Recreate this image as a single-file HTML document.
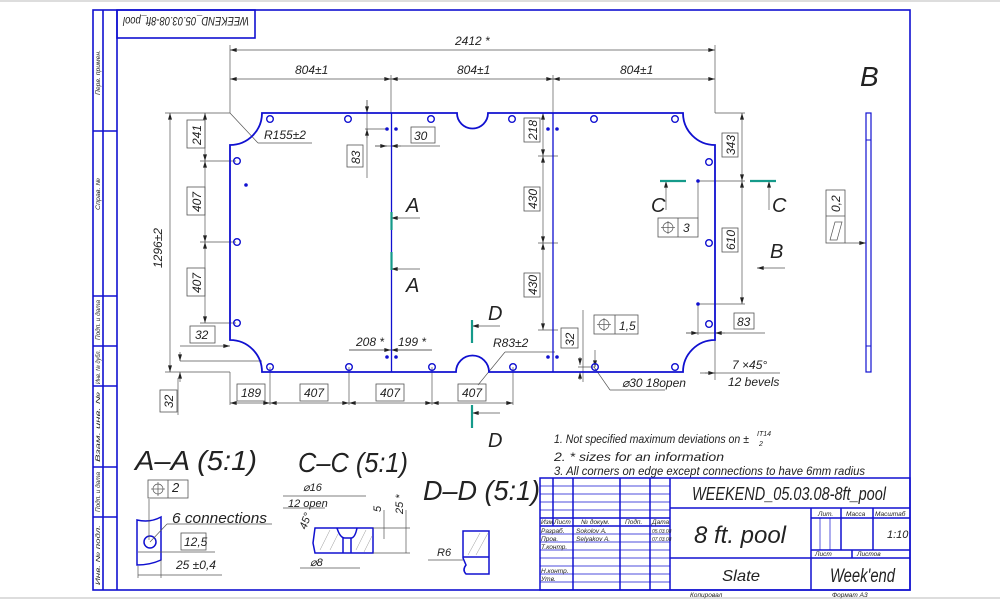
<!DOCTYPE html>
<html><head><meta charset="utf-8"><style>
html,body{margin:0;padding:0;background:#fff;}
svg{display:block;}
text{font-family:"Liberation Sans","Noto Sans CJK SC",sans-serif;font-style:italic;fill:#222;}
</style></head><body>
<svg width="1000" height="600" viewBox="0 0 1000 600" xmlns="http://www.w3.org/2000/svg">
<defs>
<marker id="ar" viewBox="0 0 10 6" refX="10" refY="3" markerWidth="8" markerHeight="4" orient="auto-start-reverse" markerUnits="userSpaceOnUse"><path d="M0,0L10,3L0,6z" fill="#222"/></marker>
</defs>
<line x1="0" y1="1" x2="1000" y2="1" stroke="#bbb"/>
<line x1="0" y1="598" x2="1000" y2="598" stroke="#bbb"/>
<!-- frame -->
<g stroke="#1010d0" stroke-width="1.6" fill="none">
<rect x="93" y="10" width="817" height="580"/>
<line x1="103" y1="10" x2="103" y2="590"/>
<line x1="117" y1="10" x2="117" y2="590"/>
<line x1="93" y1="131" x2="117" y2="131"/>
<line x1="93" y1="296" x2="117" y2="296"/>
<line x1="93" y1="346" x2="117" y2="346"/>
<line x1="93" y1="386" x2="117" y2="386"/>
<line x1="93" y1="467" x2="117" y2="467"/>
<line x1="93" y1="517" x2="117" y2="517"/>
<rect x="117" y="10" width="138" height="28"/>
</g>
<g font-size="6" fill="#333">
<text transform="translate(100,95) rotate(-90)" textLength="45" lengthAdjust="spacingAndGlyphs">Перв. примен.</text>
<text transform="translate(100,210) rotate(-90)" textLength="32" lengthAdjust="spacingAndGlyphs">Справ. №</text>
<text transform="translate(100,340) rotate(-90)" textLength="40" lengthAdjust="spacingAndGlyphs">Подп. и дата</text>
<text transform="translate(100,384) rotate(-90)" textLength="34" lengthAdjust="spacingAndGlyphs">Инв. № дубл.</text>
<text transform="translate(100,462) rotate(-90)" textLength="70" lengthAdjust="spacingAndGlyphs">Взам. инв. №</text>
<text transform="translate(100,512) rotate(-90)" textLength="40" lengthAdjust="spacingAndGlyphs">Подп. и дата</text>
<text transform="translate(100,585) rotate(-90)" textLength="60" lengthAdjust="spacingAndGlyphs">Инв. № подл.</text>
</g>
<text transform="translate(249,17) rotate(180)" font-size="12" textLength="126" lengthAdjust="spacingAndGlyphs">WEEKEND_05.03.08-8ft_pool</text>

<!-- dimension lines -->
<g stroke="#555" stroke-width="0.7" fill="none">
<line x1="230" y1="45" x2="230" y2="113"/><line x1="715" y1="45" x2="715" y2="113"/>
<line x1="391" y1="75" x2="391" y2="113"/><line x1="553" y1="75" x2="553" y2="113"/>
<line x1="230" y1="50" x2="715" y2="50" marker-start="url(#ar)" marker-end="url(#ar)"/>
<line x1="230" y1="79" x2="391" y2="79" marker-start="url(#ar)" marker-end="url(#ar)"/>
<line x1="391" y1="79" x2="553" y2="79" marker-start="url(#ar)" marker-end="url(#ar)"/>
<line x1="553" y1="79" x2="715" y2="79" marker-start="url(#ar)" marker-end="url(#ar)"/>
<line x1="165" y1="113" x2="230" y2="113"/><line x1="165" y1="372" x2="230" y2="372"/>
<line x1="170" y1="113" x2="170" y2="372" marker-start="url(#ar)" marker-end="url(#ar)"/>
<line x1="205" y1="113" x2="205" y2="161" marker-start="url(#ar)" marker-end="url(#ar)"/>
<line x1="205" y1="161" x2="205" y2="242" marker-start="url(#ar)" marker-end="url(#ar)"/>
<line x1="205" y1="242" x2="205" y2="323" marker-start="url(#ar)" marker-end="url(#ar)"/>
<line x1="200" y1="161" x2="236" y2="161"/><line x1="200" y1="242" x2="236" y2="242"/><line x1="200" y1="323" x2="236" y2="323"/>
<line x1="180" y1="346" x2="230" y2="346" marker-end="url(#ar)"/>
<line x1="180" y1="361" x2="262" y2="361"/>
<line x1="180" y1="352" x2="180" y2="361" marker-end="url(#ar)"/>
<line x1="180" y1="372" x2="180" y2="382" marker-start="url(#ar)"/>
<line x1="178" y1="378" x2="178" y2="415" />
<line x1="230" y1="372" x2="230" y2="405"/><line x1="270" y1="367" x2="270" y2="405"/>
<line x1="349" y1="367" x2="349" y2="405"/><line x1="432" y1="367" x2="432" y2="405"/><line x1="513" y1="367" x2="513" y2="405"/>
<line x1="230" y1="403" x2="270" y2="403" marker-start="url(#ar)" marker-end="url(#ar)"/>
<line x1="270" y1="403" x2="349" y2="403" marker-start="url(#ar)" marker-end="url(#ar)"/>
<line x1="349" y1="403" x2="432" y2="403" marker-start="url(#ar)" marker-end="url(#ar)"/>
<line x1="432" y1="403" x2="513" y2="403" marker-start="url(#ar)" marker-end="url(#ar)"/>
<line x1="349" y1="350" x2="432" y2="350"/>
<line x1="349" y1="350" x2="391" y2="350" marker-end="url(#ar)"/>
<line x1="391" y1="350" x2="432" y2="350" marker-start="url(#ar)"/>
<line x1="367" y1="100" x2="367" y2="178"/>
<line x1="367" y1="100" x2="367" y2="113" marker-end="url(#ar)"/>
<line x1="367" y1="129" x2="367" y2="138" marker-start="url(#ar)"/>
<line x1="365" y1="129" x2="387" y2="129"/>
<line x1="375" y1="146" x2="440" y2="146"/>
<line x1="375" y1="146" x2="387" y2="146" marker-end="url(#ar)"/>
<line x1="391" y1="146" x2="401" y2="146" marker-start="url(#ar)"/>
<line x1="543" y1="113" x2="543" y2="156" marker-start="url(#ar)" marker-end="url(#ar)"/>
<line x1="543" y1="156" x2="543" y2="243" marker-start="url(#ar)" marker-end="url(#ar)"/>
<line x1="543" y1="243" x2="543" y2="330" marker-start="url(#ar)" marker-end="url(#ar)"/>
<line x1="538" y1="156" x2="558" y2="156"/><line x1="538" y1="243" x2="558" y2="243"/><line x1="538" y1="330" x2="558" y2="330"/>
<line x1="715" y1="113" x2="745" y2="113"/>
<line x1="742" y1="113" x2="742" y2="181" marker-start="url(#ar)" marker-end="url(#ar)"/>
<line x1="742" y1="181" x2="742" y2="304" marker-start="url(#ar)" marker-end="url(#ar)"/>
<line x1="698" y1="181" x2="745" y2="181"/><line x1="698" y1="304" x2="745" y2="304"/>
<line x1="698" y1="181" x2="698" y2="218"/>
<line x1="698" y1="304" x2="698" y2="335"/>
<line x1="686" y1="333" x2="765" y2="333"/>
<line x1="686" y1="333" x2="698" y2="333" marker-end="url(#ar)"/>
<line x1="715" y1="333" x2="725" y2="333" marker-start="url(#ar)"/>
<line x1="715" y1="340" x2="715" y2="380"/>
<line x1="700" y1="373" x2="780" y2="373"/>
<line x1="705" y1="373" x2="715" y2="373" marker-end="url(#ar)"/>
<line x1="583" y1="310" x2="583" y2="382"/>
<line x1="580" y1="357" x2="580" y2="365" marker-end="url(#ar)"/>
<line x1="580" y1="372" x2="580" y2="380" marker-start="url(#ar)"/>
<line x1="578" y1="367" x2="595" y2="367"/>
<line x1="594" y1="367" x2="610" y2="390"/><line x1="610" y1="390" x2="665" y2="390"/>
<line x1="595" y1="350" x2="595" y2="367" marker-end="url(#ar)"/>
<line x1="230" y1="113" x2="258" y2="143"/><line x1="258" y1="143" x2="312" y2="143"/>
<line x1="478" y1="385" x2="505" y2="352"/><line x1="505" y1="352" x2="555" y2="352"/>
<line x1="391" y1="218" x2="420" y2="218" marker-start="url(#ar)"/>
<line x1="391" y1="269" x2="420" y2="269" marker-start="url(#ar)"/>
<line x1="472" y1="326" x2="500" y2="326" marker-start="url(#ar)"/>
<line x1="472" y1="413" x2="500" y2="413" marker-start="url(#ar)"/>
<line x1="666" y1="181" x2="666" y2="210" marker-start="url(#ar)"/>
<line x1="769" y1="181" x2="769" y2="210" marker-start="url(#ar)"/>
<line x1="757" y1="268" x2="785" y2="268" marker-start="url(#ar)"/>
<line x1="845" y1="243" x2="866" y2="243" marker-end="url(#ar)"/>
</g>

<!-- table outline -->
<g stroke="#1010d0" stroke-width="1.8" fill="none">
<path d="M262,113 L457,113 A15.5,15.5 0 0 0 488,113 L683,113 A32,32 0 0 0 715,145 L715,340 A32,32 0 0 0 683,372 L489,372 A16.5,16.5 0 0 0 456,372 L262,372 A32,32 0 0 0 230,340 L230,145 A32,32 0 0 0 262,113 Z"/>
<line x1="391.5" y1="113" x2="391.5" y2="372" stroke-width="1.3"/>
<line x1="553" y1="113" x2="553" y2="372" stroke-width="1.3"/>
<rect x="866" y="113" width="5" height="259" stroke-width="1.2"/>
<line x1="866" y1="140" x2="871" y2="140" stroke-width="1"/>
<line x1="866" y1="346" x2="871" y2="346" stroke-width="1"/>
</g>
<g stroke="#1010d0" stroke-width="1.4" fill="none">
<circle cx="270" cy="119" r="3.3"/><circle cx="348" cy="119" r="3.3"/><circle cx="431" cy="119" r="3.3"/><circle cx="512" cy="119" r="3.3"/><circle cx="594" cy="119" r="3.3"/><circle cx="675" cy="119" r="3.3"/>
<circle cx="270" cy="367" r="3.3"/><circle cx="349" cy="367" r="3.3"/><circle cx="432" cy="367" r="3.3"/><circle cx="513" cy="367" r="3.3"/><circle cx="595" cy="367" r="3.3"/><circle cx="675" cy="367" r="3.3"/>
<circle cx="237" cy="161" r="3.3"/><circle cx="237" cy="242" r="3.3"/><circle cx="237" cy="323" r="3.3"/>
<circle cx="709" cy="162" r="3.3"/><circle cx="709" cy="243" r="3.3"/><circle cx="709" cy="324" r="3.3"/>
</g>
<g fill="#1010d0">
<circle cx="387" cy="129" r="1.8"/><circle cx="396" cy="129" r="1.8"/><circle cx="548" cy="129" r="1.8"/><circle cx="557" cy="129" r="1.8"/>
<circle cx="387" cy="357" r="1.8"/><circle cx="396" cy="357" r="1.8"/><circle cx="548" cy="357" r="1.8"/><circle cx="557" cy="357" r="1.8"/>
<circle cx="246" cy="185" r="1.8"/><circle cx="698" cy="181" r="1.8"/><circle cx="698" cy="304" r="1.8"/>
</g>
<g stroke="#159a8a" stroke-width="2.2">
<line x1="391.5" y1="212" x2="391.5" y2="230"/><line x1="391.5" y1="252" x2="391.5" y2="270"/>
<line x1="472" y1="320" x2="472" y2="343"/><line x1="472" y1="405" x2="472" y2="428"/>
<line x1="660" y1="181" x2="686" y2="181"/><line x1="750" y1="181" x2="776" y2="181"/>
</g>

<!-- boxes -->
<g stroke="#555" stroke-width="0.8" fill="none">
<rect x="187" y="120" width="18" height="28"/><rect x="187" y="187" width="18" height="28"/><rect x="187" y="268" width="18" height="28"/>
<rect x="190" y="326" width="25" height="17"/>
<rect x="160" y="390" width="17" height="22"/>
<rect x="237" y="384" width="28" height="17"/><rect x="300" y="384" width="28" height="17"/><rect x="376" y="384" width="28" height="17"/><rect x="458" y="384" width="28" height="17"/>
<rect x="347" y="145" width="16" height="22"/><rect x="411" y="127" width="24" height="16"/>
<rect x="524" y="118" width="16" height="24"/><rect x="524" y="187" width="16" height="24"/><rect x="524" y="273" width="16" height="24"/>
<rect x="722" y="133" width="16" height="24"/><rect x="722" y="228" width="16" height="24"/>
<rect x="734" y="313" width="20" height="16"/>
<rect x="561" y="328" width="17" height="20"/>
<rect x="658" y="218" width="40" height="19"/><line x1="678" y1="218" x2="678" y2="237"/>
<rect x="594" y="315" width="44" height="19"/><line x1="615" y1="315" x2="615" y2="334"/>
<rect x="826" y="190" width="19" height="53"/><line x1="826" y1="216" x2="845" y2="216"/>
<rect x="148" y="480" width="40" height="18"/><line x1="168" y1="480" x2="168" y2="498"/>
<rect x="181" y="533" width="25" height="17"/>
</g>
<g stroke="#555" stroke-width="0.7" fill="none">
<circle cx="668" cy="227.5" r="5"/><line x1="661" y1="227.5" x2="675" y2="227.5"/><line x1="668" y1="221" x2="668" y2="234"/>
<circle cx="604" cy="324.5" r="5"/><line x1="597" y1="324.5" x2="611" y2="324.5"/><line x1="604" y1="318" x2="604" y2="331"/>
<circle cx="158" cy="489" r="5"/><line x1="151" y1="489" x2="165" y2="489"/><line x1="158" y1="482" x2="158" y2="496"/>
<path d="M830,240 L835,222 L842,222 L837,240 Z"/>
</g>

<!-- dimension texts -->
<g font-size="12">
<text x="455" y="45">2412 *</text>
<text x="295" y="74">804±1</text><text x="457" y="74">804±1</text><text x="620" y="74">804±1</text>
<text x="264" y="139">R155±2</text>
<text transform="translate(162,268) rotate(-90)">1296±2</text>
<text transform="translate(201,145) rotate(-90)">241</text>
<text transform="translate(201,212) rotate(-90)">407</text>
<text transform="translate(201,293) rotate(-90)">407</text>
<text x="195" y="339">32</text>
<text transform="translate(173,408) rotate(-90)">32</text>
<text x="241" y="397">189</text><text x="304" y="397">407</text><text x="380" y="397">407</text><text x="462" y="397">407</text>
<text x="356" y="346">208 *</text><text x="398" y="346">199 *</text>
<text x="493" y="347">R83±2</text>
<text transform="translate(360,164) rotate(-90)">83</text>
<text x="414" y="140">30</text>
<text transform="translate(537,140) rotate(-90)">218</text>
<text transform="translate(537,209) rotate(-90)">430</text>
<text transform="translate(537,295) rotate(-90)">430</text>
<text transform="translate(735,155) rotate(-90)">343</text>
<text transform="translate(735,250) rotate(-90)">610</text>
<text x="737" y="326">83</text>
<text transform="translate(574,346) rotate(-90)">32</text>
<text x="683" y="232">3</text><text x="619" y="330">1,5</text>
<text transform="translate(840,212) rotate(-90)">0,2</text>
<text x="622" y="387">⌀30  18open</text>
<text x="732" y="369">7 ×45°</text>
<text x="728" y="386">12 bevels</text>
</g>
<g font-size="20" font-style="normal">
<text x="406" y="212">A</text><text x="406" y="292">A</text>
<text x="488" y="320">D</text><text x="488" y="447">D</text>
<text x="651" y="212">C</text><text x="772" y="212">C</text>
<text x="770" y="258">B</text>
</g>
<text x="860" y="86" font-size="28">B</text>

<!-- sections -->
<g font-size="28">
<text x="135" y="470" textLength="122" lengthAdjust="spacingAndGlyphs">A–A (5:1)</text>
<text x="298" y="472" textLength="110" lengthAdjust="spacingAndGlyphs">C–C (5:1)</text>
<text x="423" y="500" textLength="117" lengthAdjust="spacingAndGlyphs">D–D (5:1)</text>
</g>
<text x="172" y="492" font-size="13">2</text>
<text x="172" y="523" font-size="15" textLength="95" lengthAdjust="spacingAndGlyphs">6 connections</text>
<text x="184" y="546" font-size="12">12,5</text>
<text x="176" y="569" font-size="12">25 ±0,4</text>
<g stroke="#1010d0" stroke-width="1.5" fill="none">
<path d="M137,520 Q150,523 161,517 L161,560 Q150,565 137,565 Z"/>
<circle cx="150" cy="542" r="6"/>
<path d="M315,528 L373,528 L373,553 L315,553 L313,543 Z"/>
<path d="M337,528 Q340,538 345,538 L351,538 Q355,538 357,528"/>
<line x1="343" y1="538" x2="343" y2="553"/><line x1="351" y1="538" x2="351" y2="553"/>
<path d="M463,531 L489,531 L489,574 L466,574 Q462,570 466,565 L463,558 Z"/>
<line x1="463" y1="557" x2="489" y2="557"/>
</g>
<g stroke="#999" stroke-width="0.5">
<line x1="320" y1="550" x2="330" y2="530"/><line x1="330" y1="550" x2="338" y2="534"/><line x1="356" y1="550" x2="366" y2="530"/><line x1="364" y1="552" x2="372" y2="536"/>
<line x1="468" y1="555" x2="480" y2="533"/><line x1="476" y1="555" x2="488" y2="533"/>
</g>
<g stroke="#555" stroke-width="0.7" fill="none">
<line x1="150" y1="542" x2="167" y2="524"/><line x1="167" y1="524" x2="272" y2="524"/>
<line x1="149" y1="499" x2="149" y2="540"/>
<line x1="138" y1="552" x2="215" y2="552"/><line x1="138" y1="575" x2="222" y2="575"/>
<line x1="138" y1="566" x2="138" y2="578"/><line x1="161" y1="560" x2="161" y2="578"/>
<line x1="283" y1="496" x2="366" y2="496"/><line x1="283" y1="508" x2="325" y2="508"/>
<line x1="300" y1="568" x2="360" y2="568"/>
<line x1="373" y1="528" x2="410" y2="528"/><line x1="373" y1="553" x2="410" y2="553"/>
<line x1="384" y1="510" x2="384" y2="539"/><line x1="406" y1="510" x2="406" y2="553"/>
<line x1="428" y1="560" x2="463" y2="560"/>
</g>
<g font-size="11">
<text x="303" y="491">⌀16</text>
<text x="288" y="507">12 open</text>
<text transform="translate(306,530) rotate(-70)">45°</text>
<text x="310" y="566">⌀8</text>
<text transform="translate(381,512) rotate(-90)">5</text>
<text transform="translate(403,514) rotate(-90)">25 *</text>
<text x="437" y="556">R6</text>
</g>

<!-- notes -->
<g font-size="12">
<text x="554" y="443" textLength="195" lengthAdjust="spacingAndGlyphs">1. Not specified maximum deviations on ±</text>
<text x="757" y="436" font-size="7">IT14</text><text x="759" y="446" font-size="7">2</text>
<text x="554" y="461" textLength="170" lengthAdjust="spacingAndGlyphs">2.  * sizes for an information</text>
<text x="554" y="475" textLength="311" lengthAdjust="spacingAndGlyphs">3. All corners on edge except connections to have 6mm radius</text>
</g>

<!-- title block -->
<g stroke="#1010d0" stroke-width="1.5" fill="none">
<rect x="540" y="478" width="370" height="112"/>
<line x1="670" y1="478" x2="670" y2="590"/>
<line x1="670" y1="508" x2="910" y2="508"/>
<line x1="670" y1="558" x2="910" y2="558"/>
<line x1="811" y1="508" x2="811" y2="590"/>
<line x1="811" y1="518" x2="910" y2="518"/>
<line x1="811" y1="550" x2="910" y2="550"/>
<line x1="841" y1="508" x2="841" y2="550"/>
<line x1="873" y1="508" x2="873" y2="550"/>
<line x1="852" y1="550" x2="852" y2="558"/>
<line x1="553" y1="478" x2="553" y2="526"/>
<line x1="573" y1="478" x2="573" y2="590"/>
<line x1="620" y1="478" x2="620" y2="590"/>
<line x1="650" y1="478" x2="650" y2="590"/>
<line x1="540" y1="518" x2="670" y2="518"/>
<line x1="540" y1="526" x2="670" y2="526"/>
</g>
<g stroke="#1010d0" stroke-width="0.7">
<line x1="540" y1="486" x2="670" y2="486"/><line x1="540" y1="494" x2="670" y2="494"/><line x1="540" y1="502" x2="670" y2="502"/><line x1="540" y1="510" x2="670" y2="510"/>
<line x1="540" y1="534" x2="670" y2="534"/><line x1="540" y1="542" x2="670" y2="542"/><line x1="540" y1="550" x2="670" y2="550"/><line x1="540" y1="558" x2="670" y2="558"/><line x1="540" y1="566" x2="670" y2="566"/><line x1="540" y1="574" x2="670" y2="574"/><line x1="540" y1="582" x2="670" y2="582"/>
<line x1="820" y1="518" x2="820" y2="550"/><line x1="830" y1="518" x2="830" y2="550"/>
</g>
<g font-size="6.5">
<text x="541" y="524">Изм</text><text x="554" y="524">Лист</text><text x="581" y="524">№ докум.</text><text x="625" y="524">Подп.</text><text x="652" y="524">Дата</text>
<text x="541" y="533">Разраб.</text><text x="576" y="533">Sokolov A.</text>
<text x="541" y="541">Пров.</text><text x="576" y="541">Selyakov A.</text>
<text x="541" y="549">Т.контр.</text>
<text x="541" y="573">Н.контр.</text><text x="541" y="581">Утв.</text>
<text x="652" y="533" font-size="5">05.03.08</text><text x="652" y="541" font-size="5">07.03.08</text>
<text x="818" y="516">Лит.</text><text x="846" y="516">Масса</text><text x="875" y="516">Масштаб</text>
<text x="815" y="556">Лист</text><text x="857" y="556">Листов</text>
<text x="690" y="597">Копировал</text><text x="832" y="597">Формат   А3</text>
</g>
<text x="692" y="500" font-size="18" textLength="194" lengthAdjust="spacingAndGlyphs">WEEKEND_05.03.08-8ft_pool</text>
<text x="694" y="543" font-size="24" textLength="92" lengthAdjust="spacingAndGlyphs">8 ft. pool</text>
<text x="887" y="538" font-size="11">1:10</text>
<text x="722" y="581" font-size="16" textLength="38" lengthAdjust="spacingAndGlyphs">Slate</text>
<text x="830" y="582" font-size="19" textLength="65" lengthAdjust="spacingAndGlyphs">Week'end</text>
</svg>
</body></html>
